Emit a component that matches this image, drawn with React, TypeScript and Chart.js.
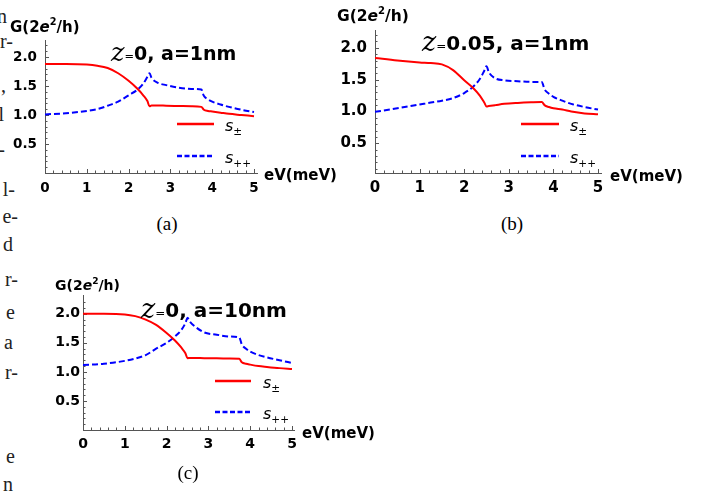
import React, { useEffect, useRef } from "react";
import { Chart, registerables } from "chart.js";
Chart.register(...registerables);

// ---------- data ----------
const eV = [0, 0.5, 1.0, 1.25, 1.5, 1.75, 2.0, 2.2, 2.35, 2.45, 2.5, 2.55, 2.7, 2.9, 3.2, 3.5, 3.74, 3.8, 3.9, 4.0, 4.2, 4.4, 4.7, 5.0];

// (a) z=0, a=1nm
const aSpm = [1.88, 1.88, 1.87, 1.85, 1.81, 1.72, 1.59, 1.46, 1.34, 1.24, 1.15, 1.165, 1.165, 1.16, 1.155, 1.15, 1.14, 1.09, 1.07, 1.06, 1.04, 1.02, 1.0, 0.98];
const aSpp = [1.01, 1.03, 1.07, 1.1, 1.16, 1.23, 1.34, 1.43, 1.54, 1.66, 1.72, 1.64, 1.555, 1.515, 1.47, 1.45, 1.44, 1.33, 1.27, 1.23, 1.18, 1.14, 1.09, 1.05];

// (b) z=0.05, a=1nm
const bSpm = [1.84, 1.8, 1.77, 1.76, 1.74, 1.65, 1.49, 1.37, 1.25, 1.14, 1.08, 1.085, 1.1, 1.12, 1.135, 1.145, 1.15, 1.1, 1.07, 1.05, 1.03, 1.0, 0.97, 0.955];
const bSpp = [0.995, 1.05, 1.11, 1.14, 1.17, 1.21, 1.29, 1.39, 1.51, 1.64, 1.71, 1.62, 1.52, 1.49, 1.475, 1.465, 1.465, 1.35, 1.28, 1.23, 1.17, 1.12, 1.07, 1.03];

// (c) z=0, a=10nm
const cSpm = [2.0, 2.0, 1.99, 1.96, 1.9, 1.81, 1.67, 1.54, 1.42, 1.32, 1.235, 1.24, 1.24, 1.235, 1.235, 1.23, 1.225, 1.165, 1.14, 1.125, 1.1, 1.085, 1.065, 1.05];
const cSpp = [1.12, 1.14, 1.19, 1.23, 1.29, 1.4, 1.5, 1.61, 1.72, 1.84, 1.93, 1.87, 1.77, 1.68, 1.64, 1.61, 1.59, 1.47, 1.4, 1.35, 1.29, 1.25, 1.2, 1.155];

const xTicks = [0, 1, 2, 3, 4, 5];
const yTicks = [0.5, 1.0, 1.5, 2.0];
const zValues = ["0", "0.05", "0"];
const aValues = ["1nm", "1nm", "10nm"];
const captions = ["(a)", "(b)", "(c)"];
const xAxisTitle = "eV(meV)";
const legendSubs = ["±", "++"];

// cropped text of the neighbouring column at the left edge
const sideText = [
  { t: "n", r: 7, y: 17 },
  { t: "r-", r: 13, y: 42 },
  { t: ",", r: 6, y: 86 },
  { t: "l", r: 4, y: 115 },
  { t: "-", r: 5, y: 150 },
  { t: "l-", r: 15, y: 190 },
  { t: "e-", r: 18, y: 217 },
  { t: "d", r: 13, y: 245 },
  { t: "r-", r: 18, y: 280 },
  { t: "e", r: 15, y: 313 },
  { t: "a", r: 13, y: 343 },
  { t: "r-", r: 18, y: 373 },
  { t: "e", r: 15, y: 457 },
  { t: "n", r: 13, y: 485 },
];

// ---------- layout ----------
type Cfg = {
  left: number; top: number; width: number; height: number;
  axisX: number; x5: number; axisTop: number; axisY: number; yZeroPx: number; yUnit: number; xMax: number;
  tickSize: number; yPad: number; xPad: number;
  spm: number[]; spp: number[]; idx: number;
  titleX: number; titleY: number; titleSize: number;
  noteX: number; noteY: number; noteSize: number;
  legX1: number; legX2: number; legY1: number; legY2: number; legTX: number;
  xtX: number; xtY: number; xtSize: number;
};

const panels: Cfg[] = [
  {
    left: 0, top: 0, width: 345, height: 205,
    axisX: 45, x5: 254, axisTop: 40, axisY: 173, yZeroPx: 173, yUnit: 58, xMax: 5.08,
    tickSize: 13.5, yPad: 8, xPad: 7, spm: aSpm, spp: aSpp, idx: 0,
    titleX: 10, titleY: 32, titleSize: 15,
    noteX: 111, noteY: 60, noteSize: 19,
    legX1: 177, legX2: 214, legY1: 124, legY2: 156, legTX: 225,
    xtX: 264, xtY: 180, xtSize: 15,
  },
  {
    left: 330, top: 0, width: 386, height: 205,
    axisX: 375, x5: 598, axisTop: 30, axisY: 173, yZeroPx: 175.2, yUnit: 63.7, xMax: 5.07,
    tickSize: 15, yPad: 8, xPad: 6, spm: bSpm, spp: bSpp, idx: 1,
    titleX: 337, titleY: 21, titleSize: 15.5,
    noteX: 422, noteY: 50, noteSize: 20,
    legX1: 521, legX2: 559, legY1: 124, legY2: 156, legTX: 570,
    xtX: 610, xtY: 181, xtSize: 15,
  },
  {
    left: 30, top: 260, width: 360, height: 230,
    axisX: 83, x5: 292, axisTop: 295, axisY: 430, yZeroPx: 430, yUnit: 58.1, xMax: 5.07,
    tickSize: 14, yPad: 3, xPad: 6, spm: cSpm, spp: cSpp, idx: 2,
    titleX: 55, titleY: 290, titleSize: 14,
    noteX: 141, noteY: 317, noteSize: 20,
    legX1: 215, legX2: 251, legY1: 381, legY2: 412, legTX: 263,
    xtX: 302, xtY: 438, xtSize: 15,
  },
];

const SANS = '"DejaVu Sans"';
const AXIS = "#555";
const RED = "#ff0000";
const BLUE = "#0000ff";
const DASH = [6, 3];

type Run = { t: string; font: string; dy?: number };
function drawRuns(ctx: CanvasRenderingContext2D, x: number, y: number, runs: Run[]) {
  for (const r of runs) {
    ctx.font = r.font;
    ctx.fillText(r.t, x, y + (r.dy || 0));
    x += ctx.measureText(r.t).width;
  }
}

function Panel({ cfg }: { cfg: Cfg }) {
  const ref = useRef<HTMLCanvasElement>(null);
  useEffect(() => {
    const canvas = ref.current!;
    const L = cfg.left, T = cfg.top;
    const plotLeft = cfg.axisX - L;
    const plotRight = plotLeft + (cfg.x5 - cfg.axisX) * cfg.xMax / 5;
    const plotTop = cfg.axisTop - T;
    const plotBottom = cfg.axisY - T;
    const yMin = (cfg.yZeroPx - cfg.axisY) / cfg.yUnit;
    const yMax = (cfg.yZeroPx - cfg.axisTop) / cfg.yUnit;
    const xAxisH = 26;

    const decor = {
      id: "decor",
      beforeDatasetsDraw(chart: any) {
        const ctx: CanvasRenderingContext2D = chart.ctx;
        const xs = chart.scales.x, ys = chart.scales.y;
        const ca = chart.chartArea;
        ctx.save();
        ctx.strokeStyle = AXIS;
        ctx.lineWidth = 1;
        ctx.beginPath();
        for (let k = 0; k <= 25; k++) {
          const v = k * 0.2;
          const px = Math.round(xs.getPixelForValue(v)) + 0.5;
          const len = k % 5 === 0 ? 4 : 2.5;
          ctx.moveTo(px, ca.bottom);
          ctx.lineTo(px, ca.bottom - len);
        }
        for (let k = 1; k <= 22; k++) {
          const v = k * 0.1;
          if (v > yMax) break;
          const py = Math.round(ys.getPixelForValue(v)) + 0.5;
          const len = k % 5 === 0 ? 4 : 2.5;
          ctx.moveTo(ca.left, py);
          ctx.lineTo(ca.left + len, py);
        }
        ctx.stroke();
        ctx.restore();
      },
      afterDraw(chart: any) {
        const ctx: CanvasRenderingContext2D = chart.ctx;
        ctx.save();
        ctx.fillStyle = "#000";
        ctx.textAlign = "left";
        ctx.textBaseline = "alphabetic";
        const s = cfg.titleSize;
        drawRuns(ctx, cfg.titleX - L, cfg.titleY - T, [
          { t: "G(2", font: `bold ${s}px ${SANS}` },
          { t: "e", font: `italic bold ${s}px ${SANS}` },
          { t: "2", font: `bold ${s * 0.65}px ${SANS}`, dy: -s * 0.45 },
          { t: "/h)", font: `bold ${s}px ${SANS}` },
        ]);
        const n = cfg.noteSize;
        drawRuns(ctx, cfg.noteX - L, cfg.noteY - T, [
          { t: "z", font: `italic ${n * 1.35}px "DejaVu Serif"`, dy: 1 },
          { t: "=", font: `${n * 0.6}px ${SANS}` },
          { t: `${zValues[cfg.idx]}, a=${aValues[cfg.idx]}`, font: `bold ${n}px ${SANS}` },
        ]);
        drawRuns(ctx, cfg.xtX - L, cfg.xtY - T, [{ t: xAxisTitle, font: `bold ${cfg.xtSize}px ${SANS}` }]);

        // legend
        ctx.lineWidth = 2.5;
        ctx.strokeStyle = RED;
        ctx.setLineDash([]);
        ctx.beginPath();
        ctx.moveTo(cfg.legX1 - L, cfg.legY1 - T);
        ctx.lineTo(cfg.legX2 - L, cfg.legY1 - T);
        ctx.stroke();
        ctx.strokeStyle = BLUE;
        ctx.setLineDash([5, 2.5]);
        ctx.beginPath();
        ctx.moveTo(cfg.legX1 - L, cfg.legY2 - T);
        ctx.lineTo(cfg.legX2 - L, cfg.legY2 - T);
        ctx.stroke();
        ctx.setLineDash([]);
        const ys = [cfg.legY1, cfg.legY2];
        legendSubs.forEach((sub, i) => {
          drawRuns(ctx, cfg.legTX - L, ys[i] - T + 7, [
            { t: "s", font: `italic 16px ${SANS}` },
            { t: sub, font: `10.5px ${SANS}`, dy: 4 },
          ]);
        });
        ctx.restore();
      },
    };

    const tickFont = { family: "DejaVu Sans", weight: "bold" as const, size: cfg.tickSize };
    const chart = new Chart(canvas, {
      type: "line",
      data: {
        datasets: [
          {
            data: eV.map((x, i) => ({ x, y: cfg.spm[i] })),
            borderColor: RED, borderWidth: 2, pointRadius: 0, fill: false,
            cubicInterpolationMode: "monotone",
          },
          {
            data: eV.map((x, i) => ({ x, y: cfg.spp[i] })),
            borderColor: BLUE, borderWidth: 2, pointRadius: 0, fill: false,
            borderDash: DASH, cubicInterpolationMode: "monotone",
          },
        ],
      },
      options: {
        animation: false,
        responsive: false,
        devicePixelRatio: 1,
        events: [],
        layout: {
          padding: {
            left: 0,
            top: plotTop,
            right: cfg.width - plotRight,
            bottom: cfg.height - plotBottom - xAxisH,
          },
        },
        plugins: { legend: { display: false }, tooltip: { enabled: false } },
        scales: {
          x: {
            type: "linear", min: 0, max: cfg.xMax,
            afterBuildTicks: (sc: any) => { sc.ticks = xTicks.map((v) => ({ value: v })); },
            afterFit: (sc: any) => { sc.height = xAxisH; },
            grid: { display: false, drawTicks: false },
            border: { display: true, color: AXIS, width: 1 },
            ticks: {
              font: tickFont, color: "#000", padding: cfg.xPad, maxRotation: 0, autoSkip: false,
              callback: (v: any) => String(v),
            },
          },
          y: {
            type: "linear", min: yMin, max: yMax,
            afterBuildTicks: (sc: any) => { sc.ticks = yTicks.map((v) => ({ value: v })); },
            afterFit: (sc: any) => { sc.width = plotLeft; },
            grid: { display: false, drawTicks: false },
            border: { display: true, color: AXIS, width: 1 },
            ticks: {
              font: tickFont, color: "#000", padding: cfg.yPad, autoSkip: false,
              callback: (v: any) => Number(v).toFixed(1),
            },
          },
        },
      } as any,
      plugins: [decor],
    });
    return () => chart.destroy();
  }, []);
  return (
    <canvas
      ref={ref}
      width={cfg.width}
      height={cfg.height}
      style={{ position: "absolute", left: cfg.left, top: cfg.top, width: cfg.width, height: cfg.height }}
    />
  );
}

const captionPos = [
  { x: 167, y: 225 },
  { x: 512, y: 225 },
  { x: 188, y: 474 },
];

export default function App() {
  return (
    <div style={{ position: "absolute", left: 0, top: 0, width: 716, height: 499, overflow: "hidden", background: "#fff" }}>
      {sideText.map((s, i) => (
        <div
          key={"s" + i}
          style={{
            position: "absolute", right: 716 - s.r, top: s.y - 12, lineHeight: "24px",
            font: '20px "Liberation Serif"', color: "#222", whiteSpace: "nowrap",
          }}
        >
          {s.t}
        </div>
      ))}
      {panels.map((p, i) => (
        <Panel key={i} cfg={p} />
      ))}
      {captions.map((c, i) => (
        <div
          key={"c" + i}
          style={{
            position: "absolute", left: captionPos[i].x - 30, width: 60, top: captionPos[i].y - 12,
            lineHeight: "24px", textAlign: "center", font: '19px "Liberation Serif"', color: "#000",
          }}
        >
          {c}
        </div>
      ))}
    </div>
  );
}
